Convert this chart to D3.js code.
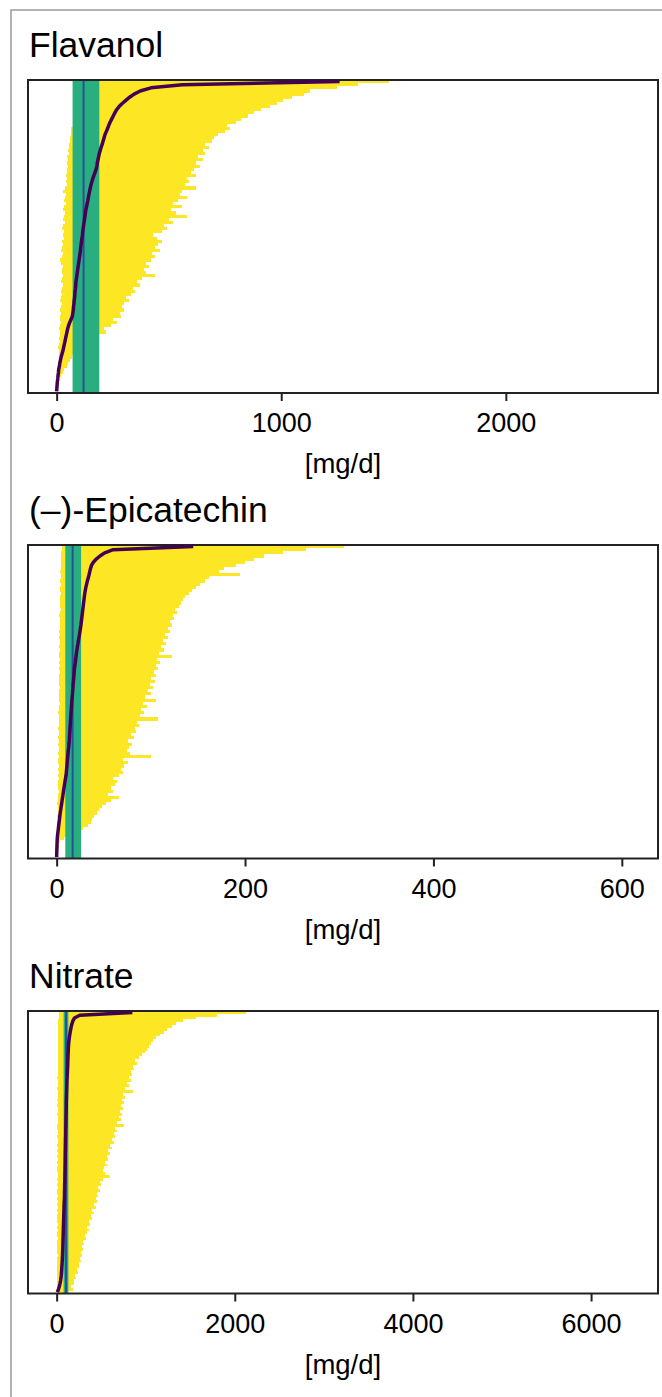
<!DOCTYPE html>
<html>
<head>
<meta charset="utf-8">
<script src="https://cdn.jsdelivr.net/npm/d3@7"></script>
<style>
  body { margin: 0; background: #fff; }
  svg { display: block; }
  text { font-family: "Liberation Sans", Arial, Helvetica, sans-serif; fill: #000; }
</style>
</head>
<body>
<svg id="chart" width="662" height="1397"></svg>
<script>
// Per-participant intake estimates, sorted by the central estimate (bottom row = lowest).
// lo / hi: uncertainty interval, mid: central estimate, all in mg/d.

const flavanolLo = [0,0,0,0,0,3,4,4,6,7,9,9,10,12,8,11,14,10,13,15,12,16,18,14,17,20,15,18,22,16,20,25,18,22,27,20,24,28,22,26,30,20,16,24,28,18,22,30,26,32,28,34,24,30,36,28,33,38,30,35,40,33,37,42,30,38,44,40,46,42,48,44,50,46,52,48,54,50,56,55,58,60,62,64,66,75,80,85,90,95,100,105,110,115,120,125,130,140,150,160];
const flavanolMid = [0,1,2,3,5,6,8,9,12,14,17,20,24,28,31,34,37,40,43,46,49,53,58,64,70,72,74,75,77,78,80,81,82,84,85,86,88,90,92,94,96,98,100,102,104,106,107,109,111,113,115,116,118,120,122,124,126,128,130,133,136,139,141,144,147,150,153,157,161,166,171,176,179,181,184,187,190,194,198,203,207,211,215,221,227,232,238,245,252,259,267,278,292,308,325,345,372,420,560,1260];
const flavanolHi = [2,4,6,8,12,20,30,35,45,50,60,70,85,100,110,120,140,160,180,220,210,240,270,250,285,280,300,290,300,320,310,330,350,340,370,360,380,440,400,390,410,400,420,440,425,460,440,450,470,445,430,470,490,480,520,500,580,530,510,560,520,540,580,550,560,620,570,590,580,620,600,610,640,620,650,630,660,650,680,660,690,700,720,750,770,760,800,820,850,880,910,950,980,1010,1050,1100,1130,1250,1340,1480];
const flavanolRange = [0, 2550];
const flavanolTicks = [0, 1000, 2000];
const flavanolRef = [71, 190];
const flavanolRefCentre = 120;

const epicatechinLo = [0,0,0,0,0,0.2,0.3,0.5,0.5,0.8,1,0.6,1.2,0.8,1.5,1,1.2,0.8,1.5,1.8,1,2,1.4,1.8,1,2.2,1.5,2,1.2,2.5,1.8,1.4,2.2,1.6,2.8,2,1.5,2.4,1.8,3,2.2,1.6,2.6,2,3,2.4,1.8,2.8,2.2,3.2,2.5,2,3,2.4,3.4,2.6,2,3,2.8,3.5,2.4,3.2,2.8,3.6,2.6,3,3.8,2.8,3.4,4,3,3.6,2.8,3.8,3.2,4,3.4,3,3.8,4.2,3.5,4,3.2,3.8,4.4,3.6,4,4.5,3.8,4.2,4.6,4,4.4,4.8,4.2,4.6,5,4.8,5.2,5.5];
const epicatechinMid = [0,0.1,0.2,0.3,0.4,0.5,0.7,1.0,1.4,1.8,2.2,2.6,3.0,3.4,3.8,4.3,4.8,5.3,5.8,6.3,6.8,7.3,7.8,8.3,8.8,9.4,10.0,10.3,10.6,10.9,11.2,11.5,11.8,12.1,12.4,12.8,13.1,13.4,13.6,13.8,14.0,14.2,14.4,14.6,14.8,15.0,15.2,15.5,15.7,16.0,16.2,16.5,16.8,17.0,17.3,17.5,17.8,18.1,18.4,18.6,18.9,19.3,19.8,20.2,20.6,21.0,21.5,22.0,22.6,23.1,23.7,24.3,24.8,25.3,25.8,26.2,26.6,27.0,27.4,27.8,28.2,28.6,29.0,29.4,29.8,30.4,31.0,31.8,32.6,33.5,34.4,35.2,36.0,37.0,39.0,42.0,46.0,51.0,60.0,145];
const epicatechinHi = [0.5,1,1.5,2,3,4,8,15,22,28,33,36,38,40,43,45,48,52,58,66,55,60,58,62,64,60,66,70,68,72,76,70,100,78,75,77,80,76,82,79,84,83,87,85,108,88,93,90,96,92,106,94,100,97,102,99,104,100,106,103,108,105,110,107,122,109,114,111,116,113,118,115,120,118,122,120,125,123,128,126,130,132,134,136,140,144,148,152,158,162,195,172,178,190,200,210,220,240,265,305];
const epicatechinRange = [0, 608];
const epicatechinTicks = [0, 200, 400, 600];
const epicatechinRef = [9.2, 26];
const epicatechinRefCentre = 17;

const nitrateLo = [2,5,4,6,3,7,5,8,4,6,9,5,7,10,6,8,4,9,7,11,5,8,10,6,12,7,9,5,11,8,13,6,10,7,12,9,5,11,8,14,6,10,12,7,9,13,8,11,6,15,9,12,7,10,14,8,11,13,6,9,16,10,12,8,14,11,7,13,9,15,10,12,8,16,11,14,9,13,17,10,12,15,11,14,18,12,16,13,15,19,14,17,16,18,20,17,19,22,24,26];
const nitrateMid = [8,20,30,38,44,48,52,55,57,59,61,63,64,66,67,68,69,70,71,72,73,74,75,76,77,78,79,80,81,82,83,84,86,87,88,88,89,90,90,91,92,92,93,94,94,95,96,96,97,97,98,99,99,100,100,101,102,102,103,104,104,105,105,106,107,107,108,108,109,110,111,112,113,114,115,116,118,119,121,122,124,125,126,127,128,130,131,133,135,138,142,147,152,158,164,172,182,200,260,850];
const nitrateHi = [120,180,160,200,190,220,210,240,230,255,250,270,260,285,275,300,290,310,300,330,315,340,360,345,380,360,400,390,420,400,440,420,450,440,470,455,490,470,500,485,520,600,540,520,530,560,540,580,560,600,580,620,600,640,620,660,640,680,650,760,680,720,700,730,710,740,720,760,730,770,750,860,770,810,790,830,810,850,830,870,860,900,880,930,960,990,1010,1040,1060,1080,1120,1160,1200,1240,1290,1340,1420,1560,1800,2130];
const nitrateRange = [0, 6430];
const nitrateTicks = [0, 2000, 4000, 6000];
const nitrateRef = [78, 132];
const nitrateRefCentre = 106;

const panels = [
  { title: "Flavanol", lo: flavanolLo, mid: flavanolMid, hi: flavanolHi, range: flavanolRange,
    ticks: flavanolTicks, ref: flavanolRef, refCentre: flavanolRefCentre, top: 80, bottom: 393 },
  { title: "(–)-Epicatechin", lo: epicatechinLo, mid: epicatechinMid, hi: epicatechinHi, range: epicatechinRange,
    ticks: epicatechinTicks, ref: epicatechinRef, refCentre: epicatechinRefCentre, top: 545, bottom: 858.5 },
  { title: "Nitrate", lo: nitrateLo, mid: nitrateMid, hi: nitrateHi, range: nitrateRange,
    ticks: nitrateTicks, ref: nitrateRef, refCentre: nitrateRefCentre, top: 1011, bottom: 1293.5 }
];

const svg = d3.select("#chart");
const left = 28, right = 658;

// outer frame
svg.append("rect")
  .attr("x", 11).attr("y", 10).attr("width", 700).attr("height", 1500)
  .attr("fill", "none").attr("stroke", "#9a9a9a").attr("stroke-width", 1.5);

panels.forEach((p, k) => {
  const g = svg.append("g");
  const pad = (p.range[1] - p.range[0]) * 0.05;
  const x = d3.scaleLinear().domain([p.range[0] - pad, p.range[1] + pad]).range([left, right]);
  const rows = d3.range(p.mid.length);
  const y = d3.scaleBand().domain(rows).range([p.bottom, p.top]).padding(0);

  const clipId = "clip" + k;
  g.append("clipPath").attr("id", clipId)
    .append("rect").attr("x", left).attr("y", p.top).attr("width", right - left).attr("height", p.bottom - p.top);

  const plot = g.append("g").attr("clip-path", `url(#${clipId})`);

  // intervals
  plot.append("g").selectAll("rect").data(rows).join("rect")
    .attr("x", i => x(p.lo[i]))
    .attr("width", i => Math.max(0, x(p.hi[i]) - x(p.lo[i])))
    .attr("y", i => y(i))
    .attr("height", y.bandwidth())
    .attr("fill", "#FDE725")
    .attr("shape-rendering", "crispEdges");

  // reference range and its centre
  plot.append("rect")
    .attr("x", x(p.ref[0])).attr("width", x(p.ref[1]) - x(p.ref[0]))
    .attr("y", p.top).attr("height", p.bottom - p.top)
    .attr("fill", "#29AF7F");
  plot.append("line")
    .attr("x1", x(p.refCentre)).attr("x2", x(p.refCentre))
    .attr("y1", p.top).attr("y2", p.bottom)
    .attr("stroke", "#22529A").attr("stroke-width", 2);

  // panel box
  g.append("rect")
    .attr("x", left).attr("y", p.top).attr("width", right - left).attr("height", p.bottom - p.top)
    .attr("fill", "none").attr("stroke", "#222").attr("stroke-width", 2);

  // central estimates
  g.append("path")
    .datum(rows)
    .attr("d", d3.line().x(i => x(p.mid[i])).y(i => y(i) + y.bandwidth() / 2))
    .attr("fill", "none").attr("stroke", "#440154").attr("stroke-width", 3.5)
    .attr("stroke-linejoin", "round");

  // x axis
  const axis = d3.axisBottom(x).tickValues(p.ticks).tickSize(8).tickPadding(12).tickFormat(d3.format("d"));
  const ax = g.append("g").attr("transform", `translate(0,${p.bottom})`).call(axis);
  ax.select(".domain").remove();
  ax.selectAll(".tick line").attr("stroke", "#222").attr("stroke-width", 2);
  ax.selectAll(".tick text").attr("font-size", 27).attr("fill", "#000")
    .attr("font-family", "'Liberation Sans', Arial, Helvetica, sans-serif");

  g.append("text")
    .attr("x", (left + right) / 2).attr("y", p.bottom + 80)
    .attr("text-anchor", "middle").attr("font-size", 27.5)
    .text("[mg/d]");

  g.append("text")
    .attr("x", 29).attr("y", p.top - 23)
    .attr("font-size", 35.5)
    .text(p.title);
});
</script>
</body>
</html>
